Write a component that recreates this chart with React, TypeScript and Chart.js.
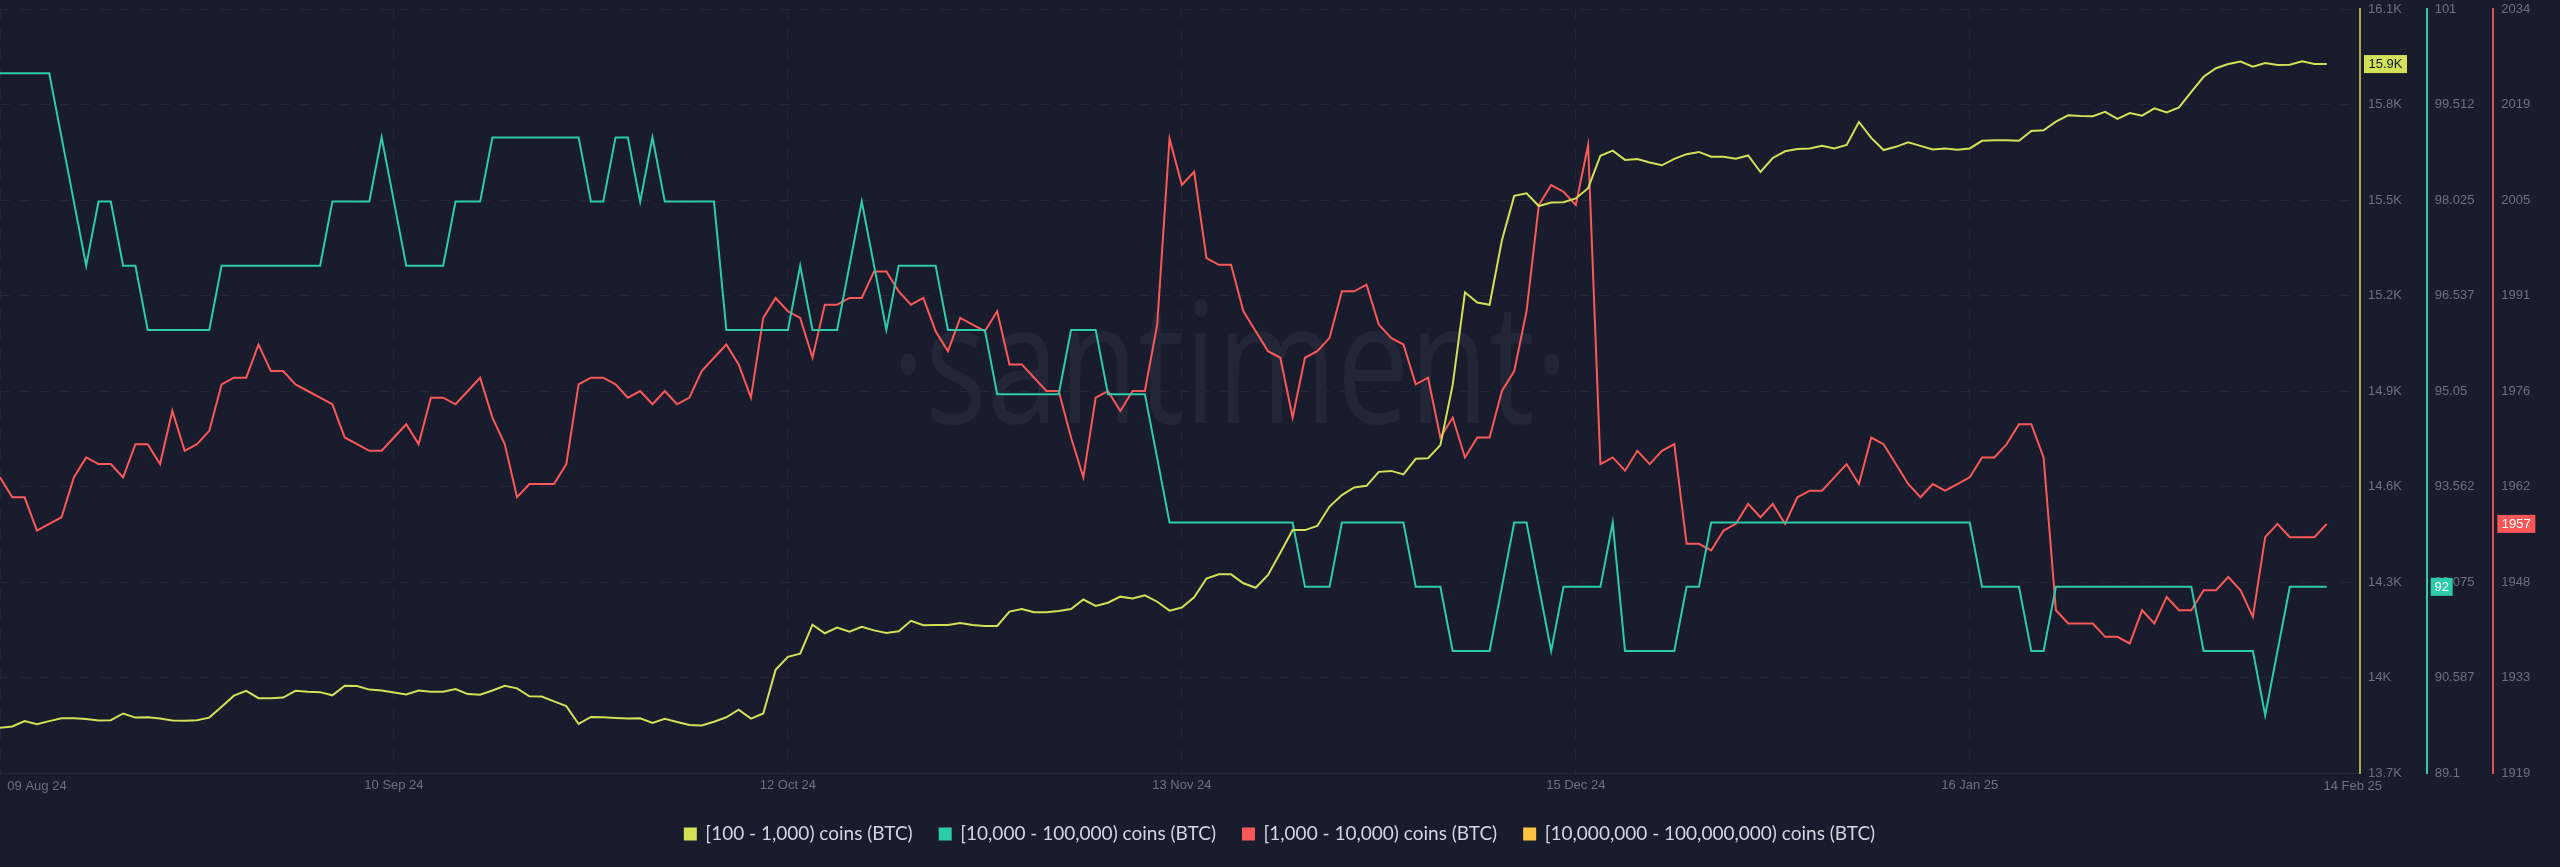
import React, { useEffect, useRef } from "react";
import { Chart, registerables } from "chart.js";

Chart.register(...registerables);

const xTickDays = [0, 32, 64, 96, 128, 160, 189];
const xTickLabels = ["09 Aug 24", "10 Sep 24", "12 Oct 24", "13 Nov 24", "15 Dec 24", "16 Jan 25", "14 Feb 25"];

const yellowTicks = ["13.7K", "14K", "14.3K", "14.6K", "14.9K", "15.2K", "15.5K", "15.8K", "16.1K"];
const tealTicks = ["89.1", "90.587", "92.075", "93.562", "95.05", "96.537", "98.025", "99.512", "101"];
const redTicks = ["1919", "1933", "1948", "1962", "1976", "1991", "2005", "2019", "2034"];

// one value per day, 09 Aug 24 to 14 Feb 25
const coins100to1k = [
  13842, 13846, 13863, 13853, 13863, 13872, 13872, 13870, 13865, 13866,
  13887, 13874, 13875, 13871, 13865, 13864, 13866, 13874, 13908, 13943,
  13958, 13935, 13935, 13937, 13958, 13955, 13954, 13944, 13974, 13973,
  13962, 13959, 13953, 13947, 13959, 13955, 13955, 13964, 13948, 13946,
  13959, 13974, 13966, 13941, 13940, 13925, 13910, 13854, 13876, 13875,
  13873, 13871, 13872, 13857, 13870, 13860, 13851, 13849, 13861, 13875,
  13899, 13871, 13887, 14024, 14065, 14075, 14166, 14139, 14157, 14144,
  14159, 14148, 14140, 14145, 14178, 14164, 14165, 14165, 14171, 14165,
  14162, 14162, 14207, 14215, 14205, 14205, 14209, 14215, 14245, 14225,
  14235, 14254, 14248, 14258, 14238, 14210, 14220, 14252, 14311, 14324,
  14324, 14296, 14282, 14322, 14392, 14463, 14463, 14476, 14537, 14573,
  14597, 14602, 14646, 14649, 14638, 14687, 14689, 14730, 14919, 15210,
  15178, 15171, 15374, 15513, 15521, 15481, 15492, 15493, 15505, 15537,
  15639, 15655, 15626, 15629, 15618, 15609, 15629, 15644, 15651, 15636,
  15636, 15630, 15640, 15588, 15632, 15653, 15660, 15662, 15670, 15662,
  15673, 15745, 15695, 15657, 15667, 15681, 15670, 15659, 15662, 15658,
  15662, 15686, 15688, 15688, 15686, 15717, 15719, 15746, 15766, 15764,
  15763, 15777, 15755, 15773, 15765, 15788, 15775, 15791, 15840, 15887,
  15914, 15927, 15935, 15919, 15930, 15924, 15925, 15936, 15927, 15927,
];

const coins10kto100k = [
  100, 100, 100, 100, 100, 99, 98, 97, 98, 98,
  97, 97, 96, 96, 96, 96, 96, 96, 97, 97,
  97, 97, 97, 97, 97, 97, 97, 98, 98, 98,
  98, 99, 98, 97, 97, 97, 97, 98, 98, 98,
  99, 99, 99, 99, 99, 99, 99, 99, 98, 98,
  99, 99, 98, 99, 98, 98, 98, 98, 98, 96,
  96, 96, 96, 96, 96, 97, 96, 96, 96, 97,
  98, 97, 96, 97, 97, 97, 97, 96, 96, 96,
  96, 95, 95, 95, 95, 95, 95, 96, 96, 96,
  95, 95, 95, 95, 94, 93, 93, 93, 93, 93,
  93, 93, 93, 93, 93, 93, 92, 92, 92, 93,
  93, 93, 93, 93, 93, 92, 92, 92, 91, 91,
  91, 91, 92, 93, 93, 92, 91, 92, 92, 92,
  92, 93, 91, 91, 91, 91, 91, 92, 92, 93,
  93, 93, 93, 93, 93, 93, 93, 93, 93, 93,
  93, 93, 93, 93, 93, 93, 93, 93, 93, 93,
  93, 92, 92, 92, 92, 91, 91, 92, 92, 92,
  92, 92, 92, 92, 92, 92, 92, 92, 92, 91,
  91, 91, 91, 91, 90, 91, 92, 92, 92, 92,
];

const coins1kto10k = [
  1964, 1961, 1961, 1956, 1957, 1958, 1964, 1967, 1966, 1966,
  1964, 1969, 1969, 1966, 1974, 1968, 1969, 1971, 1978, 1979,
  1979, 1984, 1980, 1980, 1978, 1977, 1976, 1975, 1970, 1969,
  1968, 1968, 1970, 1972, 1969, 1976, 1976, 1975, 1977, 1979,
  1973, 1969, 1961, 1963, 1963, 1963, 1966, 1978, 1979, 1979,
  1978, 1976, 1977, 1975, 1977, 1975, 1976, 1980, 1982, 1984,
  1981, 1976, 1988, 1991, 1989, 1988, 1982, 1990, 1990, 1991,
  1991, 1995, 1995, 1992, 1990, 1991, 1986, 1983, 1988, 1987,
  1986, 1989, 1981, 1981, 1979, 1977, 1977, 1970, 1964, 1976,
  1977, 1974, 1977, 1977, 1987, 2015, 2008, 2010, 1997, 1996,
  1996, 1989, 1986, 1983, 1982, 1973, 1982, 1983, 1985, 1992,
  1992, 1993, 1987, 1985, 1984, 1978, 1979, 1970, 1973, 1967,
  1970, 1970, 1977, 1980, 1989, 2005, 2008, 2007, 2005, 2014,
  1966, 1967, 1965, 1968, 1966, 1968, 1969, 1954, 1954, 1953,
  1956, 1957, 1960, 1958, 1960, 1957, 1961, 1962, 1962, 1964,
  1966, 1963, 1970, 1969, 1966, 1963, 1961, 1963, 1962, 1963,
  1964, 1967, 1967, 1969, 1972, 1972, 1967, 1944, 1942, 1942,
  1942, 1940, 1940, 1939, 1944, 1942, 1946, 1944, 1944, 1947,
  1947, 1949, 1947, 1943, 1955, 1957, 1955, 1955, 1955, 1957,
];

// no line for this one in the picture, it only has a legend entry
const coins10mto100m: number[] = [];

const BG = "#181c2c";
const GRID = "#232838";
const MUTED = "#6c7084";
const YELLOW = "#d2e157";
const TEAL = "#2ccbaa";
const RED = "#fa5858";
const ORANGE = "#ffc542";
const AXIS_FONT = { family: "'Liberation Sans'", size: 13 };

const toPoints = (values: number[]) => values.map((y, x) => ({ x, y }));

const watermark = {
  id: "watermark",
  beforeDatasetsDraw(chart: any) {
    const { ctx } = chart;
    ctx.save();
    ctx.translate(1230, 423);
    ctx.scale(0.77, 1);
    ctx.font = "168px 'Open Sans'";
    ctx.fillStyle = "#222637";
    ctx.textAlign = "center";
    ctx.textBaseline = "alphabetic";
    ctx.fillText("·santiment·", 0, 0);
    ctx.restore();
  },
};

// coloured boxes with the last value on each axis, and the two end dates
const axisExtras = {
  id: "axisExtras",
  afterDraw(chart: any) {
    const { ctx, scales } = chart;
    const tags = [
      { axis: "yYellow", text: "15.9K", w: 43, bg: YELLOW, fg: BG, last: coins100to1k[189] },
      { axis: "yTeal", text: "92", w: 22, bg: TEAL, fg: "#ffffff", last: coins10kto100k[189] },
      { axis: "yRed", text: "1957", w: 38, bg: RED, fg: "#ffffff", last: coins1kto10k[189] },
    ];
    ctx.save();
    ctx.font = "13px 'Liberation Sans'";
    ctx.textAlign = "center";
    ctx.textBaseline = "middle";
    tags.forEach((t) => {
      const s = scales[t.axis];
      const y = s.getPixelForValue(t.last);
      ctx.fillStyle = t.bg;
      ctx.fillRect(s.left + 4, y - 9, t.w, 18);
      ctx.fillStyle = t.fg;
      ctx.fillText(t.text, s.left + 4 + t.w / 2, y + 0.5);
    });
    ctx.fillStyle = MUTED;
    ctx.fillText(xTickLabels[0], scales.x.getPixelForValue(xTickDays[0]) + 37, 786);
    ctx.fillText(xTickLabels[6], scales.x.getPixelForValue(xTickDays[6]) + 26, 786);
    ctx.restore();
  },
};

const rightAxis = (min: number, max: number, color: string, labels: string[], weight: number, grid: boolean) => ({
  type: "linear" as const,
  position: "right" as const,
  weight,
  min,
  max,
  afterFit: (s: any) => {
    s.width = 66.67;
    s.paddingTop = 0;
    s.paddingBottom = 0;
  },
  border: { color, width: 2, dash: [10, 10] },
  grid: { display: grid, color: GRID, drawTicks: false, lineWidth: 1 },
  ticks: {
    count: 9,
    autoSkip: false,
    padding: 8,
    color: MUTED,
    font: AXIS_FONT,
    callback: (_: any, i: number) => labels[i],
  },
});

const App = () => {
  const chartRef = useRef<HTMLCanvasElement | null>(null);

  useEffect(() => {
    if (!chartRef.current) return;
    const line = (label: string, values: number[], color: string, yAxisID: string) => ({
      label,
      data: toPoints(values),
      borderColor: color,
      backgroundColor: color,
      borderWidth: 2,
      pointRadius: 0,
      tension: 0,
      yAxisID,
    });
    const chart = new Chart(chartRef.current, {
      type: "line",
      data: {
        datasets: [
          line("[100 - 1,000) coins (BTC)", coins100to1k, YELLOW, "yYellow"),
          line("[10,000 - 100,000) coins (BTC)", coins10kto100k, TEAL, "yTeal"),
          line("[1,000 - 10,000) coins (BTC)", coins1kto10k, RED, "yRed"),
          line("[10,000,000 - 100,000,000) coins (BTC)", coins10mto100m, ORANGE, "yYellow"),
        ],
      },
      options: {
        animation: false,
        responsive: false,
        devicePixelRatio: 1,
        layout: { padding: { top: 9, bottom: 13.5, left: 0, right: 0 } },
        plugins: {
          tooltip: { enabled: false },
          legend: {
            position: "bottom",
            onClick: () => {},
            labels: {
              boxWidth: 11,
              boxHeight: 11,
              padding: 27,
              color: "#d4d6de",
              font: { family: "Lato", size: 19 },
            },
          },
        },
        scales: {
          x: {
            type: "linear",
            min: 0,
            max: 191.7,
            afterBuildTicks: (s: any) => {
              s.ticks = xTickDays.map((value) => ({ value }));
            },
            afterFit: (s: any) => {
              s.height = 24.5;
              s.paddingLeft = 0;
              s.paddingRight = 0;
            },
            border: { color: GRID, width: 1, dash: [10, 10] },
            grid: {
              color: (c: any) => (c.index === 6 ? "transparent" : GRID),
              drawTicks: false,
              lineWidth: 1,
            },
            ticks: {
              autoSkip: false,
              maxRotation: 0,
              padding: 5,
              color: MUTED,
              font: AXIS_FONT,
              // the first and last date sit off their tick, axisExtras draws those
              callback: (_: any, i: number) => (i === 0 || i === 6 ? "" : xTickLabels[i]),
            },
          },
          yYellow: rightAxis(13700, 16100, "#a4ab47", yellowTicks, 1, true),
          yTeal: rightAxis(89.1, 101, TEAL, tealTicks, 2, false),
          yRed: rightAxis(1919.5, 2034.5, "#d9534f", redTicks, 3, false),
        },
      },
      plugins: [watermark, axisExtras],
    } as any);

    return () => {
      chart.destroy();
    };
  }, []);

  return (
    <div style={{ width: 2560, height: 867, background: BG }}>
      <style>{`body { margin: 0; background: ${BG}; }`}</style>
      <canvas ref={chartRef} width={2560} height={867} style={{ display: "block" }} />
    </div>
  );
};

export default App;
